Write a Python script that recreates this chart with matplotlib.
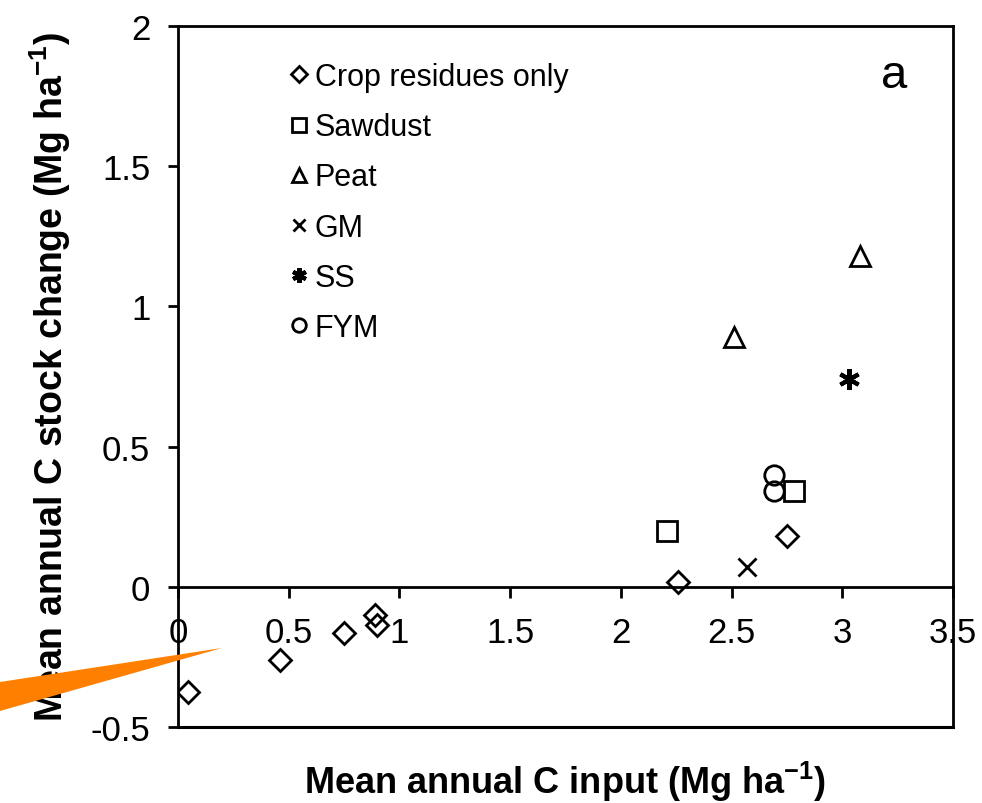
import matplotlib
matplotlib.use('Agg')
import matplotlib.pyplot as plt
from matplotlib.patches import Polygon

plt.rcParams['font.family'] = ['Liberation Sans', 'DejaVu Sans']
plt.rcParams['mathtext.fontset'] = 'custom'
plt.rcParams['mathtext.rm'] = 'Liberation Sans'
plt.rcParams['mathtext.bf'] = 'Liberation Sans:bold'

# Data (x = mean annual C input, y = mean annual C stock change)
crop_x = [0.045, 0.46, 0.75, 0.89, 0.90, 2.26, 2.75]
crop_y = [-0.375, -0.26, -0.165, -0.10, -0.135, 0.017, 0.18]
sawdust_x = [2.21, 2.78]
sawdust_y = [0.20, 0.34]
peat_x = [2.51, 3.08]
peat_y = [0.89, 1.18]
gm_x = [2.57]
gm_y = [0.07]
ss_x = [3.03]
ss_y = [0.74]
fym_x = [2.69, 2.69]
fym_y = [0.40, 0.34]

x_ticks = [0, 0.5, 1, 1.5, 2, 2.5, 3, 3.5]
x_labels = ['0', '0.5', '1', '1.5', '2', '2.5', '3', '3.5']
y_ticks = [-0.5, 0, 0.5, 1, 1.5, 2]
y_labels = ['-0.5', '0', '0.5', '1', '1.5', '2']

fig = plt.figure(figsize=(9.82, 8.04), dpi=100)
ax = fig.add_axes([0.1813, 0.0945, 0.7892, 0.8719])

mk = dict(linestyle='none', markerfacecolor='none', markeredgecolor='black',
          color='black', markeredgewidth=2)
ax.plot(crop_x, crop_y, marker='D', markersize=11, label='Crop residues only', **mk)
ax.plot(sawdust_x, sawdust_y, marker='s', markersize=14, label='Sawdust', **mk)
ax.plot(peat_x, peat_y, marker='^', markersize=14, label='Peat', **mk)
ax.plot(gm_x, gm_y, marker='x', markersize=13, label='GM', **mk)
ax.plot(ss_x, ss_y, marker=(6, 2, 0), markersize=15, label='SS',
        **{**mk, 'markeredgewidth': 3})
ax.plot(fym_x, fym_y, marker='o', markersize=14, label='FYM', **mk)

ax.set_xlim(0, 3.5)
ax.set_ylim(-0.5, 2)

# x axis drawn at y = 0, box closed at the bottom
ax.spines['bottom'].set_position(('data', 0))
ax.axhline(-0.5, color='black', linewidth=2.2, clip_on=False)
for s in ax.spines.values():
    s.set_linewidth(2)

ax.set_xticks(x_ticks)
ax.set_xticklabels(x_labels)
ax.set_yticks(y_ticks)
ax.set_yticklabels(y_labels)
ax.tick_params(axis='x', direction='out', length=8, width=2, pad=13, labelsize=25)
ax.tick_params(axis='y', direction='out', length=7, width=2, pad=13, labelsize=25)

ax.set_xlabel('Mean annual C input (Mg ha$^{\\mathbf{-1}}$)', fontsize=26,
              fontweight='bold')
ax.xaxis.set_label_coords(0.5, -0.045)
ax.set_ylabel('Mean annual C stock change (Mg ha$^{\\mathbf{-1}}$)', fontsize=27,
              fontweight='bold')
ax.yaxis.set_label_coords(-0.135, 0.5)

ax.text(0.924, 0.93, 'a', transform=ax.transAxes, fontsize=34,
        ha='center', va='center')

ax.legend(loc='upper left', bbox_to_anchor=(0.129, 0.966), frameon=False,
          fontsize=22, markerscale=0.7, handlelength=0.6, handletextpad=0.2,
          labelspacing=0.66, borderaxespad=0)

# orange pointer laid over the figure (pixel positions of the source image)
W, H = 982, 804
pts = [(0, 683), (222, 649), (0, 712)]
fig.patches.append(Polygon([(px / W, 1 - py / H) for px, py in pts], closed=True,
                           transform=fig.transFigure, facecolor='#FF8000',
                           edgecolor='none', zorder=10))

plt.savefig('out.png', dpi=100)
